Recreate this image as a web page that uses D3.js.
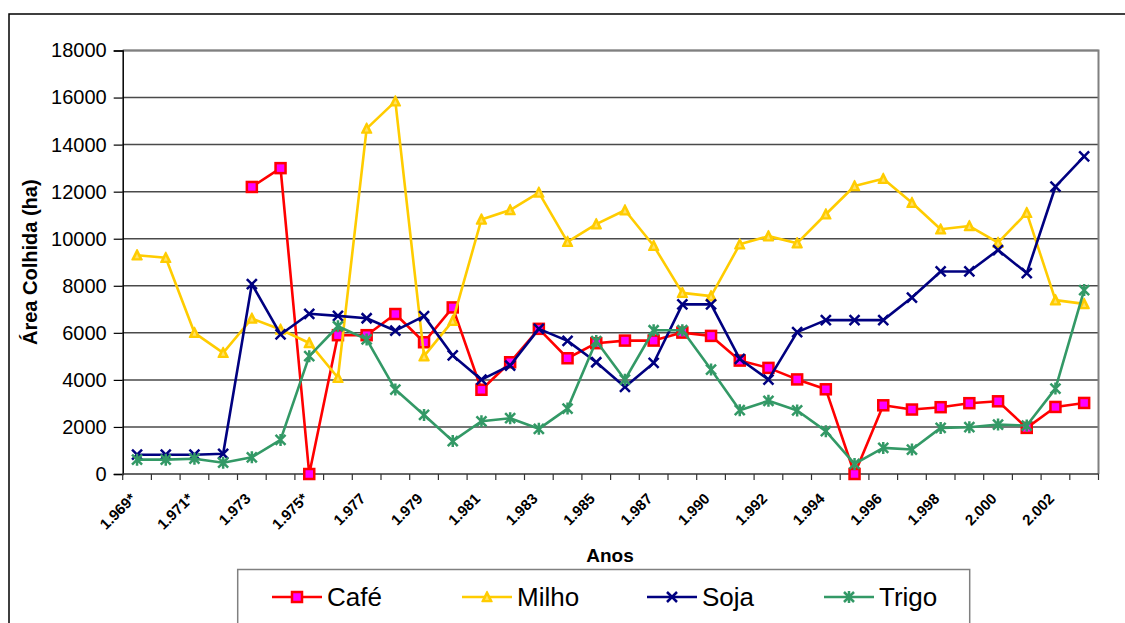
<!DOCTYPE html>
<html>
<head>
<meta charset="utf-8">
<script src="https://cdn.jsdelivr.net/npm/d3@7"></script>
<style>
  html, body { margin: 0; padding: 0; background: #fff; }
  svg { display: block; font-family: "Liberation Sans", Arial, sans-serif; }
</style>
</head>
<body>
<svg id="chart" width="1125" height="623"></svg>
<script>
// Anos (categorias do eixo X)
const anos = ["1.969*","1.970*","1.971*","1.972","1.973","1.974","1.975*","1.976","1.977","1.978",
  "1.979","1.980","1.981","1.982","1.983","1.984","1.985","1.986","1.987","1.988",
  "1.990","1.991","1.992","1.993","1.994","1.995","1.996","1.997","1.998","1.999",
  "2.000","2.001","2.002","2.003"];

// Área colhida (ha) por cultura
const cafe = [null,null,null,null,12200,13000,0,5900,5900,6800,
  5600,7080,3580,4750,6170,4920,5560,5670,5670,6010,
  5870,4820,4510,4020,3600,0,2920,2740,2840,3010,
  3090,1960,2850,3020];
const milho = [9300,9190,6000,5150,6610,6140,5570,4090,14680,15840,
  5010,6510,10820,11220,11960,9870,10620,11210,9700,7700,
  7560,9760,10110,9810,11040,12240,12550,11530,10400,10540,
  9830,11100,7390,7230];
const soja = [820,820,820,860,8070,5930,6810,6720,6620,6090,
  6710,5040,4010,4610,6170,5660,4750,3700,4720,7210,
  7210,4890,4010,6030,6540,6540,6540,7500,8610,8610,
  9520,8540,12210,13500];
const trigo = [610,610,650,480,710,1450,5010,6280,5720,3590,
  2510,1400,2240,2370,1920,2780,5650,4010,6110,6110,
  4440,2710,3110,2700,1820,430,1110,1040,1960,1990,
  2100,2060,3630,7820];

const yTicks = [0,2000,4000,6000,8000,10000,12000,14000,16000,18000];

const series = [
  { name: "Café",  values: cafe,  color: "#FF0000", marker: "square" },
  { name: "Milho", values: milho, color: "#FFCC00", marker: "triangle" },
  { name: "Soja",  values: soja,  color: "#000080", marker: "x" },
  { name: "Trigo", values: trigo, color: "#339966", marker: "star" }
];

const svg = d3.select("#chart");
const plot = { left: 122.7, right: 1098.5, top: 50.5, bottom: 474 };

const x = d3.scaleBand().domain(anos).range([plot.left, plot.right]).padding(0);
const y = d3.scaleLinear().domain([0, 18000]).range([plot.bottom, plot.top]);
const cx = d => x(d) + x.bandwidth() / 2;

// Moldura externa
svg.append("rect")
  .attr("x", 9).attr("y", 14).attr("width", 1140).attr("height", 640)
  .attr("fill", "none").attr("stroke", "#000").attr("stroke-width", 1.5);

// Linhas de grade
svg.append("g").selectAll("line").data(yTicks.filter(t => t > 0)).join("line")
  .attr("x1", plot.left).attr("x2", plot.right)
  .attr("y1", d => y(d)).attr("y2", d => y(d))
  .attr("stroke", "#4a4a4a").attr("stroke-width", 1.5);

// Borda da área de plotagem (topo e direita)
svg.append("path")
  .attr("d", `M${plot.left},${plot.top}H${plot.right}V${plot.bottom}`)
  .attr("fill", "none").attr("stroke", "#808080").attr("stroke-width", 2);

// Eixo Y
const yAxis = d3.axisLeft(y).tickValues(yTicks).tickSize(9).tickPadding(7).tickFormat(d3.format("d"));
const gy = svg.append("g").attr("transform", `translate(${plot.left},0)`).call(yAxis);
gy.select(".domain").attr("stroke", "#000").attr("stroke-width", 1.5);
gy.selectAll(".tick line").attr("stroke", "#000").attr("stroke-width", 1.2);
gy.selectAll(".tick text").attr("font-size", 20).attr("fill", "#000")
  .attr("font-family", "Liberation Sans, Arial, sans-serif");

// Eixo X (marcas nos limites das categorias)
const gx = svg.append("g").attr("transform", `translate(0,${plot.bottom})`);
gx.append("line").attr("x1", plot.left).attr("x2", plot.right)
  .attr("stroke", "#333").attr("stroke-width", 1.5);
const bounds = anos.map(d => x(d)).concat([plot.right]);
gx.selectAll("line.tk").data(bounds).join("line").attr("class", "tk")
  .attr("x1", d => d).attr("x2", d => d).attr("y1", 0).attr("y2", 6)
  .attr("stroke", "#333").attr("stroke-width", 1.2);
gx.selectAll("text").data(anos.filter((d, i) => i % 2 === 0 && i < 33)).join("text")
  .attr("transform", d => `translate(${cx(d) - 4},${22}) rotate(-45)`)
  .attr("text-anchor", "end").attr("dy", "0.35em")
  .attr("font-size", 15).attr("font-weight", "bold").attr("fill", "#000")
  .text(d => d);

// Títulos dos eixos
svg.append("text").attr("x", 610).attr("y", 562).attr("text-anchor", "middle")
  .attr("font-size", 19).attr("font-weight", "bold").text("Anos");
svg.append("text").attr("transform", `translate(37,${(plot.top + plot.bottom) / 2}) rotate(-90)`)
  .attr("text-anchor", "middle").attr("font-size", 20).attr("font-weight", "bold")
  .text("Área Colhida (ha)");

// Marcadores
function drawMarker(g, type, color, px, py, s) {
  if (type === "square") {
    g.append("rect").attr("x", px - s / 2).attr("y", py - s / 2).attr("width", s).attr("height", s)
      .attr("fill", "#FF00FF").attr("stroke", color).attr("stroke-width", 2.5);
  } else if (type === "triangle") {
    const h = s * 0.9;
    g.append("path").attr("d", `M${px},${py - h / 2 - 1}L${px + s / 2},${py + h / 2}L${px - s / 2},${py + h / 2}Z`)
      .attr("fill", color).attr("stroke", color).attr("stroke-width", 1.5).attr("stroke-linejoin", "round");
    g.append("path").attr("d", `M${px},${py - h / 2 + 3}L${px + s / 2 - 3},${py + h / 2 - 1.5}L${px - s / 2 + 3},${py + h / 2 - 1.5}Z`)
      .attr("fill", "#FFE066").attr("stroke", "none");
  } else if (type === "x") {
    const r = s / 2;
    g.append("path").attr("d", `M${px - r},${py - r}L${px + r},${py + r}M${px - r},${py + r}L${px + r},${py - r}`)
      .attr("stroke", color).attr("stroke-width", 2.5);
  } else if (type === "star") {
    const r = s / 2;
    g.append("path").attr("d", `M${px - r},${py - r}L${px + r},${py + r}M${px - r},${py + r}L${px + r},${py - r}M${px},${py - r - 1}L${px},${py + r + 1}`)
      .attr("stroke", color).attr("stroke-width", 2.5);
  }
}

// Séries
const line = d3.line().defined(d => d.v !== null).x(d => cx(d.a)).y(d => y(d.v));
const lines = svg.append("g");
series.forEach(s => {
  const pts = anos.map((a, i) => ({ a, v: s.values[i] }));
  const g = lines.append("g");
  g.append("path").datum(pts).attr("d", line)
    .attr("fill", "none").attr("stroke", s.color).attr("stroke-width", 2.6).attr("stroke-linejoin", "round");
  pts.filter(p => p.v !== null).forEach(p => drawMarker(g, s.marker, s.color, cx(p.a), y(p.v), 10));
});

// Legenda
const leg = svg.append("g");
leg.append("rect").attr("x", 237.7).attr("y", 569.5).attr("width", 732).attr("height", 100)
  .attr("fill", "#fff").attr("stroke", "#808080").attr("stroke-width", 1.5);
const legX = [272, 462, 647, 824];
series.forEach((s, i) => {
  const g = leg.append("g");
  const x0 = legX[i], ly = 597;
  g.append("line").attr("x1", x0).attr("x2", x0 + 50).attr("y1", ly).attr("y2", ly)
    .attr("stroke", s.color).attr("stroke-width", 2.6);
  drawMarker(g, s.marker, s.color, x0 + 25, ly, 10);
  g.append("text").attr("x", x0 + 55).attr("y", ly + 9).attr("font-size", 26)
    .attr("fill", "#000").text(s.name);
});
</script>
</body>
</html>
